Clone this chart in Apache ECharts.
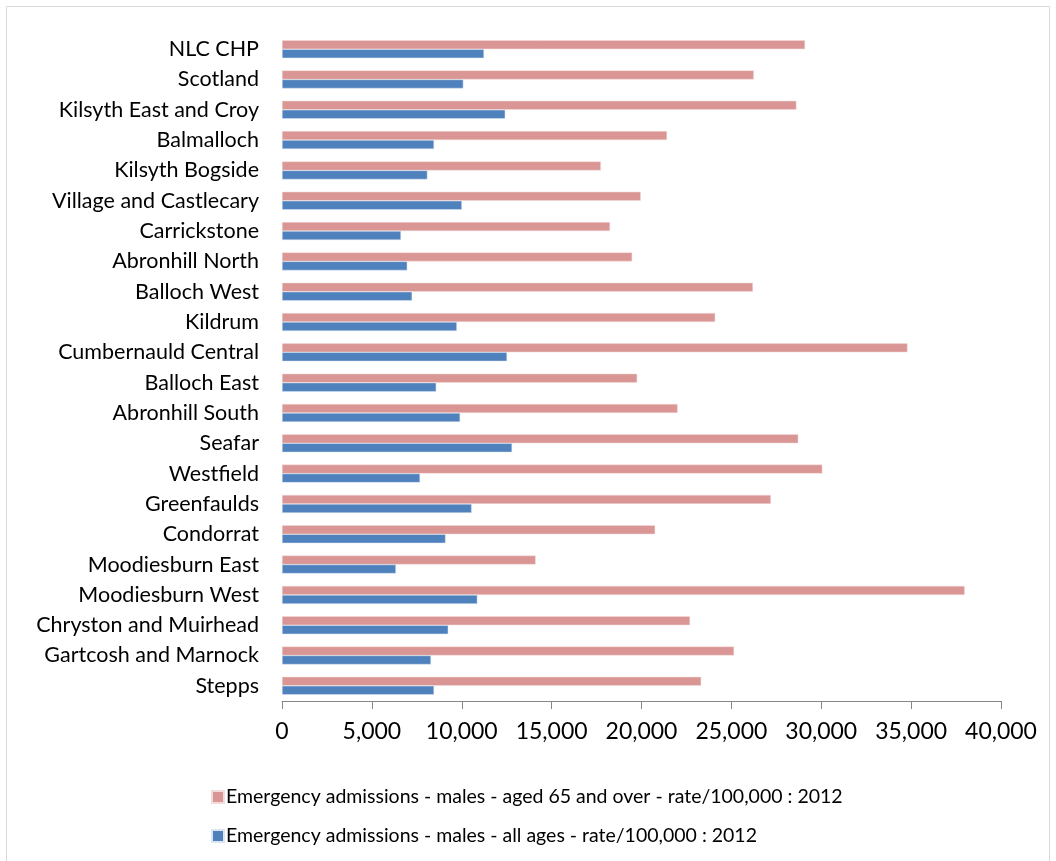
<!DOCTYPE html>
<html lang="en">
<head>
    <meta charset="UTF-8">
    <script src="https://cdn.jsdelivr.net/npm/echarts@6/dist/echarts.min.js"></script>
    <style>
        html, body { margin: 0; padding: 0; background: #fff; }
        #main { width: 1056px; height: 861px; }
    </style>
</head>
<body>
    <div id="main"></div>
</body>
<script>
    var areas = ['NLC CHP', 'Scotland', 'Kilsyth East and Croy', 'Balmalloch', 'Kilsyth Bogside',
        'Village and Castlecary', 'Carrickstone', 'Abronhill North', 'Balloch West', 'Kildrum',
        'Cumbernauld Central', 'Balloch East', 'Abronhill South', 'Seafar', 'Westfield',
        'Greenfaulds', 'Condorrat', 'Moodiesburn East', 'Moodiesburn West', 'Chryston and Muirhead',
        'Gartcosh and Marnock', 'Stepps'];
    var aged65 = [29100, 26250, 28620, 21420, 17740, 19960, 18250, 19480, 26200, 24100,
        34800, 19760, 22010, 28720, 30060, 27200, 20760, 14110, 37980, 22700, 25150, 23320];
    var allAges = [11240, 10090, 12420, 8460, 8090, 10010, 6620, 6970, 7240, 9730,
        12520, 8580, 9910, 12800, 7680, 10550, 9100, 6340, 10870, 9250, 8290, 8460];
    var seriesNames = ['Emergency admissions - males - aged 65 and over - rate/100,000 : 2012',
        'Emergency admissions - males - all ages - rate/100,000 : 2012'];

    var myChart = echarts.init(document.getElementById('main'));
    var option = {
        animation: false,
        textStyle: { fontFamily: 'Lato' },
        graphic: [{
            type: 'rect',
            shape: { x: 6.5, y: 6.5, width: 1043, height: 870 },
            style: { fill: 'none', stroke: '#d9d9d9', lineWidth: 1 }
        }],
        legend: {
            orient: 'vertical',
            left: 206,
            top: 782,
            itemGap: 19,
            itemWidth: 12,
            itemHeight: 12,
            icon: 'rect',
            textStyle: { fontSize: 19.5, color: '#000', padding: [0, 0, 0, -3] },
            data: seriesNames
        },
        grid: { left: 282, right: 55, top: 34, bottom: 160, containLabel: false },
        xAxis: {
            type: 'value',
            min: 0,
            max: 40000,
            interval: 5000,
            splitLine: { show: false },
            axisLine: { show: true, lineStyle: { color: '#868686', width: 1 } },
            axisTick: { show: true, length: 8, lineStyle: { color: '#868686' } },
            axisLabel: {
                fontSize: 23,
                color: '#000',
                margin: 19,
                formatter: function (v) { return v.toLocaleString('en-US'); }
            }
        },
        yAxis: {
            type: 'category',
            inverse: true,
            data: areas,
            axisLine: { show: false },
            axisTick: { show: false },
            axisLabel: { fontSize: 21.5, color: '#000', margin: 23 }
        },
        series: [
            {
                name: seriesNames[0],
                type: 'bar',
                data: aged65,
                barWidth: 9,
                barGap: '0%',
                itemStyle: { color: '#d99694', borderColor: '#f2dcdb', borderWidth: 0.5 }
            },
            {
                name: seriesNames[1],
                type: 'bar',
                data: allAges,
                barWidth: 9,
                barGap: '0%',
                itemStyle: { color: '#4f81bd', borderColor: '#dce6f2', borderWidth: 0.5 }
            }
        ]
    };
    myChart.setOption(option);
</script>
</html>
